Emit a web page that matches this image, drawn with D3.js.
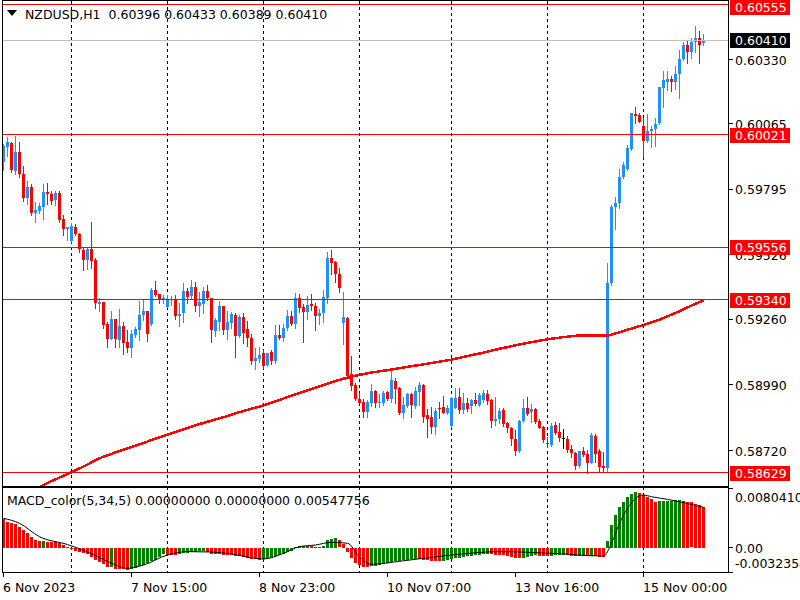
<!DOCTYPE html>
<html><head><meta charset="utf-8">
<script src="https://cdn.jsdelivr.net/npm/d3@7"></script>
<style>
html,body{margin:0;padding:0;background:#fff;}
svg{display:block;font-family:"DejaVu Sans",sans-serif;font-size:12.5px;}
text{white-space:pre;}
</style></head><body>
<svg id="c" width="800" height="600"></svg>
<script>
const headerText = "NZDUSD,H1  0.60396 0.60433 0.60389 0.60410";
const macdText = "MACD_color(5,34,5) 0.00000000 0.00000000 0.00547756";

const opens = [0.59909,0.59971,0.59985,0.59872,0.59948,0.59857,0.59761,0.59805,0.59699,0.59707,0.59724,0.59784,0.59776,0.59753,0.59780,0.59672,0.59633,0.59584,0.59640,0.59613,0.59547,0.59504,0.59550,0.59506,0.59323,0.59331,0.59241,0.59180,0.59261,0.59175,0.59233,0.59167,0.59143,0.59197,0.59216,0.59278,0.59294,0.59242,0.59381,0.59364,0.59338,0.59312,0.59338,0.59344,0.59275,0.59285,0.59377,0.59357,0.59394,0.59316,0.59323,0.59377,0.59347,0.59213,0.59250,0.59315,0.59216,0.59245,0.59278,0.59191,0.59268,0.59220,0.59184,0.59090,0.59097,0.59120,0.59072,0.59124,0.59090,0.59195,0.59182,0.59223,0.59274,0.59240,0.59347,0.59312,0.59291,0.59323,0.59315,0.59274,0.59285,0.59349,0.59514,0.59497,0.59445,0.59246,0.59267,0.59034,0.58990,0.58932,0.58921,0.58877,0.58917,0.58965,0.58917,0.58917,0.58962,0.58932,0.59006,0.58978,0.58873,0.58904,0.58953,0.58904,0.58960,0.58990,0.58866,0.58857,0.58818,0.58896,0.58898,0.58876,0.58821,0.58896,0.58941,0.58887,0.58917,0.58903,0.58928,0.58907,0.58928,0.58953,0.58928,0.58843,0.58850,0.58887,0.58834,0.58814,0.58767,0.58718,0.58841,0.58896,0.58877,0.58891,0.58841,0.58818,0.58752,0.58743,0.58825,0.58795,0.58770,0.58766,0.58725,0.58711,0.58656,0.58718,0.58705,0.58670,0.58780,0.58718,0.58656,0.58649,0.59408,0.59721,0.59738,0.59845,0.59878,0.59960,0.60106,0.60101,0.60056,0.59996,0.60037,0.60044,0.60067,0.60211,0.60239,0.60250,0.60239,0.60270,0.60331,0.60390,0.60362,0.60403,0.60417,0.60396];
const highs = [0.59982,0.60010,0.59990,0.60015,0.59991,0.59891,0.59830,0.59816,0.59742,0.59740,0.59816,0.59821,0.59788,0.59788,0.59788,0.59690,0.59641,0.59655,0.59653,0.59617,0.59552,0.59552,0.59662,0.59511,0.59348,0.59333,0.59250,0.59294,0.59263,0.59304,0.59250,0.59216,0.59216,0.59230,0.59337,0.59344,0.59296,0.59390,0.59418,0.59366,0.59361,0.59361,0.59356,0.59361,0.59326,0.59408,0.59389,0.59422,0.59415,0.59374,0.59394,0.59401,0.59349,0.59267,0.59337,0.59317,0.59294,0.59291,0.59285,0.59278,0.59285,0.59253,0.59200,0.59143,0.59145,0.59134,0.59123,0.59134,0.59237,0.59237,0.59240,0.59298,0.59294,0.59367,0.59364,0.59322,0.59356,0.59364,0.59326,0.59301,0.59381,0.59538,0.59545,0.59501,0.59470,0.59374,0.59270,0.59110,0.58997,0.58955,0.58931,0.58928,0.58994,0.58969,0.58951,0.58965,0.58965,0.59058,0.59017,0.58980,0.58941,0.58955,0.58955,0.58983,0.59003,0.58993,0.58891,0.58898,0.58894,0.58921,0.58944,0.58907,0.58940,0.58978,0.58976,0.58955,0.58936,0.58931,0.58958,0.58958,0.58969,0.58969,0.58930,0.58939,0.58894,0.58894,0.58836,0.58816,0.58804,0.58845,0.58931,0.58941,0.58910,0.58894,0.58848,0.58821,0.58777,0.58832,0.58836,0.58832,0.58807,0.58780,0.58743,0.58712,0.58720,0.58736,0.58722,0.58793,0.58788,0.58725,0.58714,0.59491,0.59731,0.59763,0.59878,0.59909,0.59978,0.60111,0.60136,0.60108,0.60088,0.60105,0.60056,0.60088,0.60218,0.60284,0.60284,0.60262,0.60304,0.60369,0.60403,0.60410,0.60417,0.60468,0.60447,0.60433];
const lows = [0.59875,0.59933,0.59868,0.59858,0.59847,0.59747,0.59736,0.59690,0.59662,0.59697,0.59673,0.59734,0.59735,0.59732,0.59662,0.59607,0.59587,0.59580,0.59606,0.59536,0.59463,0.59467,0.59473,0.59305,0.59296,0.59226,0.59147,0.59178,0.59147,0.59147,0.59119,0.59126,0.59106,0.59186,0.59175,0.59257,0.59172,0.59237,0.59356,0.59326,0.59326,0.59310,0.59319,0.59261,0.59234,0.59250,0.59328,0.59347,0.59294,0.59275,0.59285,0.59340,0.59168,0.59193,0.59216,0.59200,0.59179,0.59226,0.59106,0.59189,0.59164,0.59150,0.59076,0.59055,0.59083,0.59058,0.59070,0.59076,0.59079,0.59179,0.59171,0.59216,0.59237,0.59226,0.59291,0.59168,0.59260,0.59298,0.59216,0.59240,0.59250,0.59329,0.59445,0.59415,0.59374,0.59157,0.59018,0.58969,0.58928,0.58914,0.58859,0.58859,0.58903,0.58900,0.58900,0.58907,0.58928,0.58921,0.58914,0.58869,0.58855,0.58900,0.58859,0.58894,0.58907,0.58838,0.58777,0.58793,0.58788,0.58852,0.58873,0.58870,0.58818,0.58894,0.58873,0.58873,0.58882,0.58873,0.58907,0.58903,0.58921,0.58911,0.58815,0.58825,0.58832,0.58821,0.58797,0.58743,0.58701,0.58715,0.58836,0.58866,0.58838,0.58832,0.58811,0.58756,0.58735,0.58740,0.58787,0.58760,0.58731,0.58715,0.58694,0.58644,0.58653,0.58698,0.58629,0.58667,0.58672,0.58635,0.58631,0.58632,0.59401,0.59631,0.59717,0.59841,0.59875,0.59957,0.60070,0.60072,0.59930,0.59990,0.59971,0.59974,0.60064,0.60136,0.60204,0.60201,0.60207,0.60173,0.60328,0.60314,0.60335,0.60362,0.60314,0.60389];
const closes = [0.59975,0.59991,0.59875,0.59948,0.59857,0.59761,0.59805,0.59699,0.59710,0.59727,0.59784,0.59775,0.59748,0.59780,0.59670,0.59633,0.59640,0.59644,0.59610,0.59548,0.59504,0.59550,0.59501,0.59329,0.59330,0.59237,0.59180,0.59261,0.59180,0.59233,0.59164,0.59143,0.59200,0.59220,0.59278,0.59294,0.59200,0.59381,0.59361,0.59340,0.59348,0.59344,0.59344,0.59275,0.59282,0.59377,0.59353,0.59394,0.59316,0.59330,0.59377,0.59347,0.59216,0.59257,0.59315,0.59216,0.59250,0.59282,0.59191,0.59271,0.59205,0.59184,0.59088,0.59102,0.59113,0.59069,0.59120,0.59090,0.59195,0.59184,0.59226,0.59274,0.59240,0.59347,0.59308,0.59291,0.59319,0.59315,0.59274,0.59287,0.59351,0.59514,0.59493,0.59445,0.59390,0.59271,0.59027,0.58987,0.58932,0.58917,0.58877,0.58918,0.58965,0.58917,0.58921,0.58958,0.58932,0.59010,0.58972,0.58873,0.58907,0.58953,0.58907,0.58965,0.58990,0.58859,0.58850,0.58818,0.58884,0.58893,0.58876,0.58896,0.58937,0.58937,0.58887,0.58917,0.58891,0.58928,0.58910,0.58948,0.58958,0.58925,0.58843,0.58850,0.58884,0.58829,0.58811,0.58766,0.58718,0.58841,0.58896,0.58869,0.58890,0.58838,0.58814,0.58763,0.58745,0.58821,0.58793,0.58770,0.58770,0.58722,0.58708,0.58656,0.58718,0.58701,0.58670,0.58785,0.58705,0.58653,0.58648,0.59411,0.59724,0.59740,0.59845,0.59896,0.59964,0.60110,0.60099,0.60074,0.59996,0.60035,0.60043,0.60064,0.60216,0.60246,0.60250,0.60239,0.60270,0.60331,0.60390,0.60362,0.60403,0.60417,0.60390,0.60410];

const levelPrices = [0.60555, 0.60021, 0.59556, 0.59340, 0.58629];
const bidPrice = 0.60410;
const priceTicks = [0.60330, 0.60065, 0.59795, 0.59526, 0.59260, 0.58990, 0.58720];

const maBars = [9,12,16,20,24,28,32,36,40,44,48,52,56,60,64,68,72,76,80,84,88,92,96,100,104,108,112,116,120,124,128,132,136,140,144,148,151,152,156,160,164,168,172,175];
const maVals = [0.58570,0.58594,0.58623,0.58654,0.58688,0.58712,0.58734,0.58757,0.58780,0.58801,0.58824,0.58843,0.58862,0.58883,0.58901,0.58922,0.58946,0.58968,0.58990,0.59011,0.59028,0.59041,0.59051,0.59062,0.59072,0.59083,0.59094,0.59109,0.59123,0.59139,0.59153,0.59166,0.59178,0.59187,0.59194,0.59193,0.59193,0.59197,0.59217,0.59237,0.59259,0.59286,0.59317,0.59338];

const macdHist = [0.00384,0.00352,0.00330,0.00321,0.00285,0.00240,0.00196,0.00150,0.00106,0.00093,0.00095,0.00083,0.00080,0.00075,0.00062,0.00039,0.00010,
-0.00010,-0.00037,-0.00051,-0.00073,-0.00082,-0.00118,-0.00162,-0.00193,-0.00221,-0.00260,-0.00255,-0.00279,-0.00283,-0.00287,-0.00290,
-0.00280,-0.00266,-0.00247,-0.00225,-0.00207,-0.00180,-0.00155,-0.00120,-0.00085,
-0.00090,-0.00095,-0.00097,-0.00085,-0.00072,-0.00062,-0.00055,-0.00048,-0.00042,-0.00040,
-0.00050,-0.00075,-0.00080,-0.00082,-0.00090,-0.00092,-0.00095,-0.00105,-0.00110,-0.00118,-0.00130,-0.00145,-0.00152,-0.00156,
-0.00150,-0.00140,-0.00135,-0.00110,-0.00095,-0.00080,-0.00055,-0.00040,0.00010,0.00025,0.00028,0.00030,0.00025,0.00018,0.00015,0.00030,0.00110,0.00125,0.00130,0.00100,0.00055,
-0.00060,-0.00140,-0.00200,-0.00230,-0.00250,-0.00255,
-0.00245,-0.00235,-0.00225,-0.00215,-0.00205,-0.00190,-0.00180,-0.00172,-0.00165,-0.00155,-0.00150,-0.00145,
-0.00150,-0.00160,-0.00165,-0.00170,-0.00172,-0.00174,
-0.00170,-0.00162,-0.00150,-0.00140,-0.00130,-0.00120,-0.00112,-0.00105,-0.00098,-0.00092,-0.00086,-0.00080,
-0.00085,-0.00088,-0.00092,-0.00100,-0.00110,-0.00120,-0.00135,-0.00140,
-0.00130,-0.00115,-0.00105,-0.00100,
-0.00102,-0.00108,-0.00112,
-0.00105,-0.00100,-0.00098,-0.00095,
-0.00100,-0.00105,-0.00112,
-0.00108,-0.00105,
-0.00110,-0.00105,-0.00112,-0.00120,-0.00125,
0.00093,0.00307,0.00440,0.00553,0.00620,0.00680,0.00723,0.00746,0.00740,0.00710,0.00679,0.00652,0.00620,0.00625,0.00630,0.00632,0.00635,0.00640,0.00642,0.00630,0.00620,0.00610,0.00595,0.00575,0.00548];

const sigBars = [0,4,9,16,21,26,31,35,41,46,52,57,65,70,74,78,82,86,89,92,99,112,124,137,150,152,154,156,158,160,162,166,170,175];
const sigVals = [0.00397,0.00330,0.00150,0.00045,-0.00055,-0.00180,-0.00274,-0.00230,-0.00095,-0.00050,-0.00055,-0.00082,-0.00149,-0.00073,0.00016,0.00039,0.00075,0.00062,-0.00118,-0.00220,-0.00180,-0.00095,-0.00050,-0.00073,-0.00109,0.00062,0.00330,0.00530,0.00665,0.00710,0.00687,0.00652,0.00607,0.00545];

const macdMax = 0.0080410, macdMin = -0.0032354;
const macdTickLabels = ["0.0080410", "0.00", "-0.0032354"];

const timeLabels = ["6 Nov 2023","7 Nov 15:00","8 Nov 23:00","10 Nov 07:00","13 Nov 16:00","15 Nov 00:00"];
const timeLabelBars = [0,32,64,96,128,160];
const gridBars = [17,41,65,89,112,136,160];

// ---------- layout ----------
const L = 2, R = 728.5, mainTop = 0, mainBot = 486, mTop = 488, mBot = 572;
const svg = d3.select("#c");
const n = opens.length;
const x = d3.scaleLinear().domain([0, 175]).range([3.5, 703.5]);
const y = d3.scaleLinear().domain([0.60330, 0.58720]).range([59.5, 450.5]);
const ym = d3.scaleLinear().domain([macdMin, macdMax]).range([mBot, mTop]);
const px = v => Math.floor(v) + 0.5;

svg.append("rect").attr("width",800).attr("height",600).attr("fill","#fff");
const defs = svg.append("defs");
defs.append("clipPath").attr("id","cm").append("rect").attr("x",L+1).attr("y",1).attr("width",R-L-1.5).attr("height",mainBot-1);
defs.append("clipPath").attr("id","cd").append("rect").attr("x",L+1).attr("y",mTop).attr("width",R-L-1.5).attr("height",mBot-mTop);

// grid
svg.append("g").selectAll("line").data(gridBars).join("line")
  .attr("x1",d=>x(d)).attr("x2",d=>x(d)).attr("y1",1).attr("y2",mBot)
  .attr("stroke","#000").attr("stroke-dasharray","3,3").attr("shape-rendering","crispEdges");

// main pane
const gm = svg.append("g").attr("clip-path","url(#cm)");
const idx = d3.range(n);
const col = i => closes[i] > opens[i] ? "#1e90ff" : (closes[i] < opens[i] ? "#ff0000" : "#000000");
gm.append("g").selectAll("rect").data(idx).join("rect")
  .attr("x",i=>Math.round(x(i)-0.5)).attr("width",1)
  .attr("y",i=>Math.round(y(highs[i])))
  .attr("height",i=>Math.max(1,Math.round(y(lows[i]))-Math.round(y(highs[i]))+1))
  .attr("fill",col).attr("shape-rendering","crispEdges");
gm.append("g").selectAll("rect").data(idx).join("rect")
  .attr("x",i=>Math.round(x(i)-1.5)).attr("width",3)
  .attr("y",i=>Math.round(y(Math.max(opens[i],closes[i]))))
  .attr("height",i=>Math.max(1,Math.round(y(Math.min(opens[i],closes[i])))-Math.round(y(Math.max(opens[i],closes[i])))))
  .attr("fill",col).attr("shape-rendering","crispEdges");

// moving average
gm.append("path").datum(d3.range(maBars.length))
  .attr("d", d3.line().x(k=>x(maBars[k])).y(k=>y(maVals[k])))
  .attr("fill","none").attr("stroke","#ff0000").attr("stroke-width",2.5).attr("shape-rendering","crispEdges");

// bid line
svg.append("line").attr("x1",L).attr("x2",R).attr("y1",px(y(bidPrice))).attr("y2",px(y(bidPrice)))
  .attr("stroke","#c0c0c0").attr("shape-rendering","crispEdges");
// level lines
svg.append("g").selectAll("line").data(levelPrices).join("line")
  .attr("x1",L).attr("x2",R).attr("y1",d=>px(y(d))).attr("y2",d=>px(y(d)))
  .attr("stroke","#ff0000").attr("shape-rendering","crispEdges");

// price axis labels
const fmt = d3.format(".5f");
const ga = svg.append("g");
ga.selectAll("line.t").data(priceTicks).join("line").attr("class","t")
  .attr("x1",R).attr("x2",R+4).attr("y1",d=>px(y(d))).attr("y2",d=>px(y(d))).attr("stroke","#000").attr("shape-rendering","crispEdges");
ga.selectAll("text.t").data(priceTicks).join("text").attr("class","t")
  .attr("x",735).attr("y",d=>y(d)+5).attr("fill","#000").text(d=>fmt(d));
// level boxes
const boxes = levelPrices.map(p=>({p, c:"#ff0000"})).concat([{p:bidPrice, c:"#000000"}]);
boxes.forEach(b=>{
  let top = Math.round(y(b.p)) - 7;
  if (top < 0) top = 0;
  ga.append("rect").attr("x",730).attr("y",top).attr("width",60).attr("height",15).attr("fill",b.c).attr("shape-rendering","crispEdges");
  ga.append("text").attr("x",735).attr("y",top+12).attr("fill","#fff").text(fmt(b.p));
});

// header
svg.append("path").attr("d","M7,10L17,10L12,16Z").attr("fill","#000");
svg.append("text").attr("x",25).attr("y",19).attr("fill","#000").text(headerText);

// MACD pane
const gd = svg.append("g").attr("clip-path","url(#cd)");
gd.append("g").selectAll("rect").data(idx).join("rect")
  .attr("x",i=>Math.round(x(i)-1.5)).attr("width",3)
  .attr("y",i=>Math.round(Math.min(ym(0),ym(macdHist[i]))))
  .attr("height",i=>Math.max(1,Math.round(Math.abs(ym(macdHist[i])-ym(0)))))
  .attr("fill",i=> (i>0 && macdHist[i] > macdHist[i-1]) ? "#008000" : "#ff0000")
  .attr("shape-rendering","crispEdges");
gd.append("path").datum(d3.range(sigBars.length))
  .attr("d", d3.line().curve(d3.curveMonotoneX).x(k=>x(sigBars[k])).y(k=>ym(sigVals[k])))
  .attr("fill","none").attr("stroke","#000").attr("stroke-width",1);
svg.append("text").attr("x",7).attr("y",505).attr("fill","#000").text(macdText);

// MACD axis
const mt = [macdMax, 0, macdMin];
svg.selectAll("line.mt").data(mt).join("line").attr("class","mt")
  .attr("x1",R).attr("x2",R+4).attr("y1",d=>px(ym(d))).attr("y2",d=>px(ym(d))).attr("stroke","#000").attr("shape-rendering","crispEdges");
svg.append("text").attr("x",735).attr("y",mTop+14).text(macdTickLabels[0]);
svg.append("text").attr("x",735).attr("y",ym(0)+5).text(macdTickLabels[1]);
svg.append("text").attr("x",735).attr("y",mBot-4).text(macdTickLabels[2]);

// borders
const bd = svg.append("g").attr("shape-rendering","crispEdges");
bd.append("line").attr("x1",L+0.5).attr("x2",L+0.5).attr("y1",0).attr("y2",mBot+1).attr("stroke","#000");
bd.append("line").attr("x1",R).attr("x2",R).attr("y1",0).attr("y2",mBot+1).attr("stroke","#000");
bd.append("line").attr("x1",L).attr("x2",R).attr("y1",0.5).attr("y2",0.5).attr("stroke","#000");
bd.append("rect").attr("x",L).attr("y",mainBot).attr("width",R-L+0.5).attr("height",2).attr("fill","#000");
bd.append("line").attr("x1",L).attr("x2",R+0.5).attr("y1",mBot+0.5).attr("y2",mBot+0.5).attr("stroke","#000");

// time axis
svg.selectAll("line.tt").data(timeLabelBars).join("line").attr("class","tt")
  .attr("x1",d=>x(d)).attr("x2",d=>x(d)).attr("y1",mBot+1).attr("y2",mBot+5).attr("stroke","#000").attr("shape-rendering","crispEdges");
svg.selectAll("text.tt").data(timeLabelBars).join("text").attr("class","tt")
  .attr("x",d=>x(d)-0.5).attr("y",591.5).attr("fill","#000").text((d,i)=>timeLabels[i]);
</script>
</body></html>
